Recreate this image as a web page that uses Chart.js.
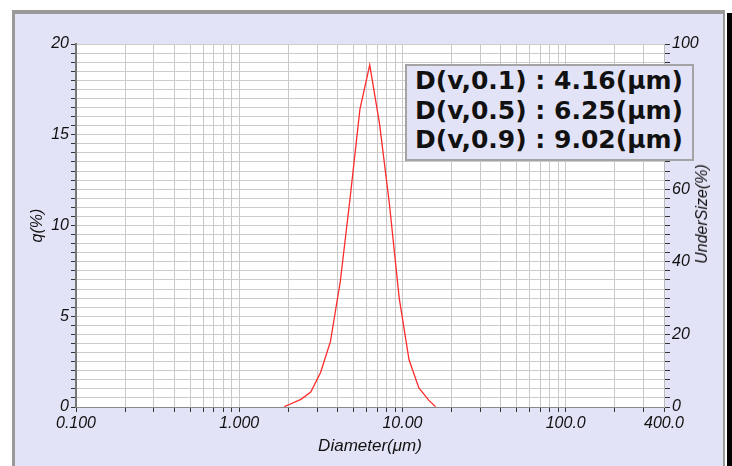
<!DOCTYPE html>
<html>
<head>
<meta charset="utf-8">
<script src="https://cdn.jsdelivr.net/npm/chart.js@4.4.1/dist/chart.umd.min.js"></script>
<style>
html,body{margin:0;padding:0;background:#fff;}
#wrap{position:relative;width:732px;height:466px;overflow:hidden;background:#fff;}
#frame{position:absolute;left:12px;top:10px;width:713px;height:456px;background:#e3e3f7;
  border-left:3px solid #9a9a9a;border-top:4px solid #9a9a9a;border-right:2px solid #9a9a9a;box-sizing:border-box;}
#strip{position:absolute;left:727px;top:13px;width:5px;height:453px;background:#000;}
#chart{position:absolute;left:0;top:0;}
#dbox{position:absolute;left:405px;top:64px;width:289px;height:97px;box-sizing:border-box;
  background:#e3e3f7;border:2px solid #a4a4a4;padding:0 0 0 8px;
  font-family:"DejaVu Sans",Verdana,sans-serif;font-weight:bold;font-size:25px;line-height:29.5px;color:#111;white-space:nowrap;}
#rtitle{position:absolute;left:702px;top:214px;transform:translate(-50%,-50%) rotate(-90deg);
  font-family:"Liberation Sans",Arial,sans-serif;font-style:italic;font-size:16px;color:#111;white-space:nowrap;}
</style>
</head>
<body>
<div id="wrap">
  <div id="frame"></div>
  <div id="strip"></div>
  <canvas id="chart" width="732" height="466"></canvas>
  <div id="dbox"><div id="l1"></div><div id="l2"></div><div id="l3"></div></div>
  <div id="rtitle">UnderSize(%)</div>
</div>
<script>
// ---- data ----
const diameters = [1.888, 2.078, 2.387, 2.742, 3.150, 3.618, 4.157, 4.775, 5.485, 6.30, 7.237, 8.313, 9.549, 10.97, 12.60, 14.47, 15.94];
const qValues   = [0.02, 0.18, 0.42, 0.82, 1.9, 3.6, 6.9, 11.5, 16.4, 18.85, 15.6, 11.2, 6.0, 2.6, 1.05, 0.38, 0.02];

const xGridValues = [0.1,0.2,0.3,0.4,0.5,0.6,0.7,0.8,0.9,1,2,3,4,5,6,7,8,9,10,20,30,40,50,60,70,80,90,100,200,300,400];
const xLabelValues = [0.1, 1, 10, 100, 400];
const xLabelTexts  = ['0.100', '1.000', '10.00', '100.0', '400.0'];

const qGridValues = [0,0.5,1,1.5,2,2.5,3,3.5,4,4.5,5,5.5,6,6.5,7,7.5,8,8.5,9,9.5,10,10.5,11,11.5,12,12.5,13,13.5,14,14.5,15,15.5,16,16.5,17,17.5,18,18.5,19,19.5,20];
const qLabelValues = [0, 5, 10, 15, 20];

const uGridValues = [0,2.5,5,7.5,10,12.5,15,17.5,20,22.5,25,27.5,30,32.5,35,37.5,40,42.5,45,47.5,50,52.5,55,57.5,60,62.5,65,67.5,70,72.5,75,77.5,80,82.5,85,87.5,90,92.5,95,97.5,100];
const uLabelValues = [0, 20, 40, 60, 80, 100];

const dLabels = ['D(v,0.1)', 'D(v,0.5)', 'D(v,0.9)'];
const dValues = ['4.16', '6.25', '9.02'];

['l1','l2','l3'].forEach((id,i)=>{
  document.getElementById(id).textContent = dLabels[i] + ' : ' + dValues[i] + '(\u03bcm)';
});

const tickFont = {family:'"Liberation Sans", Arial, sans-serif', size:16, style:'italic'};
const titleFont = {family:'"Liberation Sans", Arial, sans-serif', size:17, style:'italic'};

const plotBg = {
  id:'plotBg',
  beforeDraw(chart){
    const {ctx, chartArea:a} = chart;
    ctx.save();
    ctx.fillStyle = '#ffffff';
    ctx.fillRect(a.left, a.top, a.right-a.left, a.bottom-a.top);
    ctx.strokeStyle = '#a0a0a0';
    ctx.lineWidth = 1;
    ctx.beginPath();
    ctx.moveTo(a.left, a.top+0.5); ctx.lineTo(a.right, a.top+0.5);
    ctx.stroke();
    ctx.restore();
  }
};

new Chart(document.getElementById('chart'), {
  type: 'line',
  data: {
    datasets: [{
      data: diameters.map((d,i)=>({x:d, y:qValues[i]})),
      borderColor: '#ff2a2a',
      borderWidth: 1.3,
      pointRadius: 0,
      tension: 0,
      fill: false,
      yAxisID: 'y'
    }]
  },
  options: {
    responsive: false,
    animation: false,
    devicePixelRatio: 1,
    layout: {padding: {top: 44, left: 0, right: 0, bottom: 0}},
    plugins: {legend: {display: false}, tooltip: {enabled: false}},
    scales: {
      x: {
        type: 'logarithmic', min: 0.1, max: 400, position: 'bottom',
        afterBuildTicks: s => { s.ticks = xGridValues.map(v => ({value: v})); },
        afterFit: s => { s.height = 59; },
        grid: {color: '#c8c8c8', lineWidth: 1, tickLength: 5, tickColor: '#333'},
        border: {display: true, color: '#888', width: 1},
        ticks: {
          autoSkip: false, maxRotation: 0, minRotation: 0, padding: 2, color: '#111', font: tickFont,
          callback: (v) => { const i = xLabelValues.indexOf(v); return i >= 0 ? xLabelTexts[i] : ''; }
        },
        title: {display: true, text: 'Diameter(\u03bcm)', color: '#111', font: titleFont, padding: {top: 0, bottom: 10}}
      },
      y: {
        type: 'linear', min: 0, max: 20, position: 'left',
        afterBuildTicks: s => { s.ticks = qGridValues.map(v => ({value: v})); },
        afterFit: s => { s.width = 76; },
        grid: {color: '#cccccc', lineWidth: 1, tickLength: 5, tickColor: '#333'},
        border: {display: true, color: '#777', width: 2},
        ticks: {
          autoSkip: false, padding: 2, color: '#111', font: tickFont,
          callback: (v) => qLabelValues.includes(v) ? String(v) : ''
        },
        title: {display: true, text: 'q(%)', color: '#111', font: tickFont, padding: {top: 28, bottom: 0}}
      },
      y2: {
        type: 'linear', min: 0, max: 100, position: 'right', display: true,
        afterBuildTicks: s => { s.ticks = uGridValues.map(v => ({value: v})); },
        afterFit: s => { s.width = 68; },
        grid: {drawOnChartArea: false, tickLength: 6, tickColor: '#333'},
        border: {display: true, color: '#bbb', width: 1},
        ticks: {
          autoSkip: false, padding: 2, color: '#111', font: tickFont,
          callback: (v) => uLabelValues.includes(v) ? String(v) : ''
        }
      }
    }
  },
  plugins: [plotBg]
});
</script>
</body>
</html>
